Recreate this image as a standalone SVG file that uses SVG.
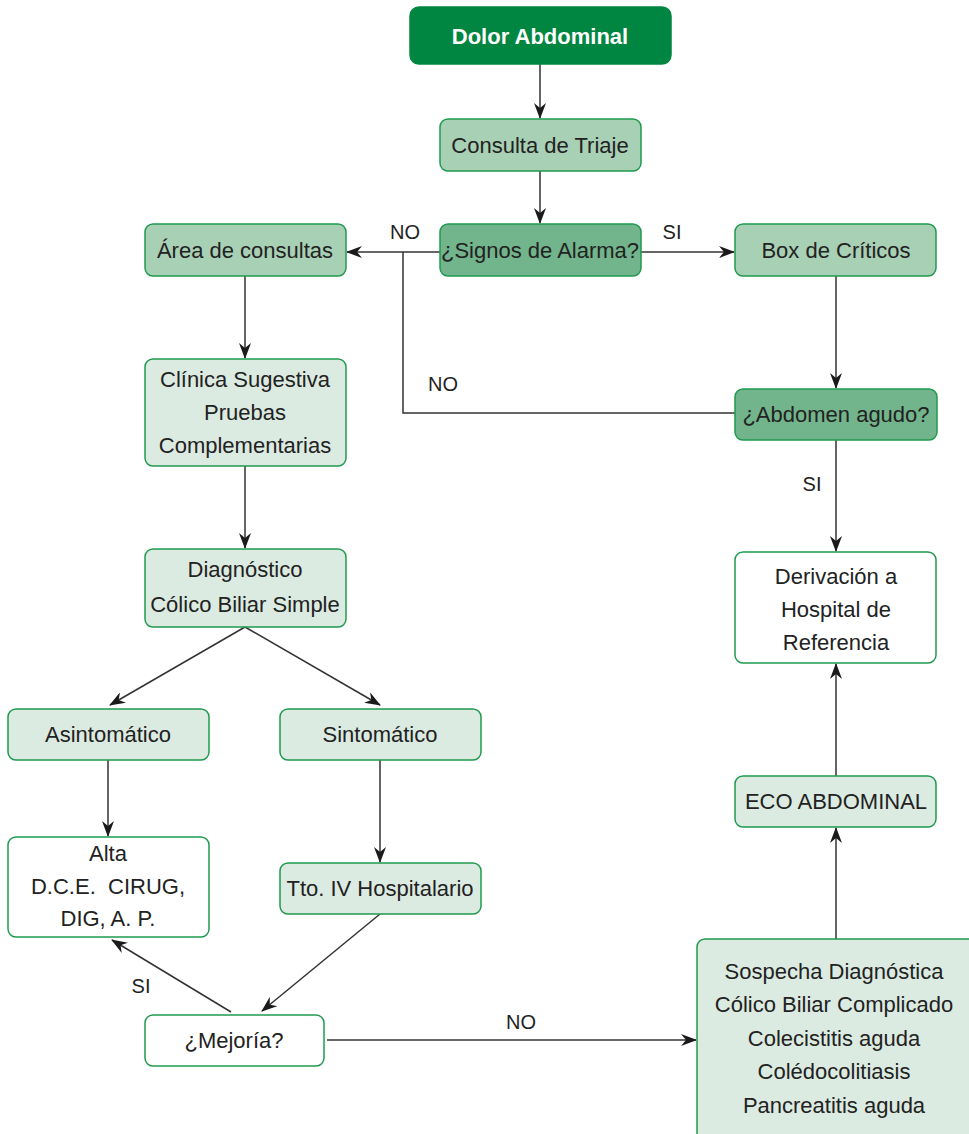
<svg xmlns="http://www.w3.org/2000/svg" width="969" height="1134" viewBox="0 0 969 1134">
  <defs>
    <marker id="arrow" viewBox="0 0 16 12" refX="15" refY="6" markerWidth="16" markerHeight="12" markerUnits="userSpaceOnUse" orient="auto">
      <path d="M0,0 L16,6 L0,12 L5,6 Z" fill="#1a1a1a"/>
    </marker>
    <style>
      .box { stroke: #1f9a4e; stroke-width: 1.5; }
      .start { fill: #008640; stroke: #008640; }
      .mid { fill: #a8d0b5; }
      .dec { fill: #72b48b; }
      .light { fill: #dcebe1; }
      .white { fill: #ffffff; }
      text { font-family: "Liberation Sans", Arial, sans-serif; font-size: 22px; fill: #222; text-anchor: middle; }
      .title { font-weight: bold; fill: #ffffff; font-size: 22px; }
      .lbl { font-size: 20px; }
      .edge { fill: none; stroke: #333; stroke-width: 1.5; }
    </style>
  </defs>

  <rect width="969" height="1134" fill="#ffffff"/>

  <g id="connectors">
    <line class="edge" x1="540" y1="64" x2="540" y2="118" marker-end="url(#arrow)"/>
    <line class="edge" x1="540" y1="171" x2="540" y2="223" marker-end="url(#arrow)"/>
    <line class="edge" x1="440" y1="252" x2="347" y2="252" marker-end="url(#arrow)"/>
    <line class="edge" x1="641" y1="252" x2="734" y2="252" marker-end="url(#arrow)"/>
    <polyline class="edge" points="735,413 403,413 403,252"/>
    <line class="edge" x1="836" y1="276" x2="836" y2="388" marker-end="url(#arrow)"/>
    <line class="edge" x1="836" y1="440" x2="836" y2="551" marker-end="url(#arrow)"/>
    <line class="edge" x1="245" y1="276" x2="245" y2="358" marker-end="url(#arrow)"/>
    <line class="edge" x1="245" y1="466" x2="245" y2="548" marker-end="url(#arrow)"/>
    <line class="edge" x1="245" y1="627" x2="110" y2="705" marker-end="url(#arrow)"/>
    <line class="edge" x1="245" y1="627" x2="380" y2="705" marker-end="url(#arrow)"/>
    <line class="edge" x1="108" y1="760" x2="108" y2="836" marker-end="url(#arrow)"/>
    <line class="edge" x1="380" y1="760" x2="380" y2="862" marker-end="url(#arrow)"/>
    <line class="edge" x1="380" y1="914" x2="262" y2="1011" marker-end="url(#arrow)"/>
    <line class="edge" x1="231" y1="1012" x2="112" y2="940" marker-end="url(#arrow)"/>
    <line class="edge" x1="327" y1="1040" x2="696" y2="1040" marker-end="url(#arrow)"/>
    <line class="edge" x1="836" y1="939" x2="836" y2="828" marker-end="url(#arrow)"/>
    <line class="edge" x1="836" y1="776" x2="836" y2="664" marker-end="url(#arrow)"/>

    <text class="lbl" x="405" y="239">NO</text>
    <text class="lbl" x="672" y="239">SI</text>
    <text class="lbl" x="443" y="391">NO</text>
    <text class="lbl" x="812" y="491">SI</text>
    <text class="lbl" x="141" y="993">SI</text>
    <text class="lbl" x="521" y="1029">NO</text>
  </g>

  <g id="dolor-abdominal">
    <rect class="box start" x="410" y="7" width="261" height="57" rx="9"/>
    <text class="title" x="540" y="44">Dolor Abdominal</text>
  </g>

  <g id="consulta-triaje">
    <rect class="box mid" x="440" y="119" width="201" height="52" rx="8"/>
    <text x="540" y="153">Consulta de Triaje</text>
  </g>

  <g id="signos-alarma">
    <rect class="box dec" x="440" y="224" width="201" height="52" rx="8"/>
    <text x="540" y="258">¿Signos de Alarma?</text>
  </g>

  <g id="area-consultas">
    <rect class="box mid" x="145" y="224" width="201" height="52" rx="8"/>
    <text x="245" y="258">Área de consultas</text>
  </g>

  <g id="box-criticos">
    <rect class="box mid" x="735" y="224" width="201" height="52" rx="8"/>
    <text x="836" y="258">Box de Críticos</text>
  </g>

  <g id="abdomen-agudo">
    <rect class="box dec" x="735" y="389" width="202" height="51" rx="8"/>
    <text x="836" y="422">¿Abdomen agudo?</text>
  </g>

  <g id="clinica-sugestiva">
    <rect class="box light" x="145" y="359" width="201" height="107" rx="8"/>
    <text x="245" y="387">Clínica Sugestiva</text>
    <text x="245" y="420">Pruebas</text>
    <text x="245" y="453">Complementarias</text>
  </g>

  <g id="diagnostico">
    <rect class="box light" x="145" y="549" width="201" height="78" rx="8"/>
    <text x="245" y="577">Diagnóstico</text>
    <text x="245" y="612">Cólico Biliar Simple</text>
  </g>

  <g id="asintomatico">
    <rect class="box light" x="8" y="709" width="201" height="51" rx="8"/>
    <text x="108" y="742">Asintomático</text>
  </g>

  <g id="sintomatico">
    <rect class="box light" x="280" y="709" width="201" height="51" rx="8"/>
    <text x="380" y="742">Sintomático</text>
  </g>

  <g id="alta">
    <rect class="box white" x="8" y="837" width="201" height="100" rx="8"/>
    <text x="108" y="861">Alta</text>
    <text x="108" y="894" xml:space="preserve">D.C.E.  CIRUG,</text>
    <text x="108" y="926">DIG, A. P.</text>
  </g>

  <g id="tto-hospitalario">
    <rect class="box light" x="280" y="863" width="201" height="51" rx="8"/>
    <text x="380" y="896">Tto. IV Hospitalario</text>
  </g>

  <g id="mejoria">
    <rect class="box white" x="145" y="1015" width="179" height="51" rx="8"/>
    <text x="234" y="1048">¿Mejoría?</text>
  </g>

  <g id="sospecha">
    <rect class="box light" x="697" y="939" width="300" height="220" rx="8"/>
    <text x="834" y="979">Sospecha Diagnóstica</text>
    <text x="834" y="1012">Cólico Biliar Complicado</text>
    <text x="834" y="1046">Colecistitis aguda</text>
    <text x="834" y="1079">Colédocolitiasis</text>
    <text x="834" y="1113">Pancreatitis aguda</text>
  </g>

  <g id="derivacion">
    <rect class="box white" x="735" y="552" width="201" height="111" rx="8"/>
    <text x="836" y="584">Derivación a</text>
    <text x="836" y="617">Hospital de</text>
    <text x="836" y="650">Referencia</text>
  </g>

  <g id="eco-abdominal">
    <rect class="box light" x="735" y="776" width="201" height="51" rx="8"/>
    <text x="836" y="809">ECO ABDOMINAL</text>
  </g>
</svg>
